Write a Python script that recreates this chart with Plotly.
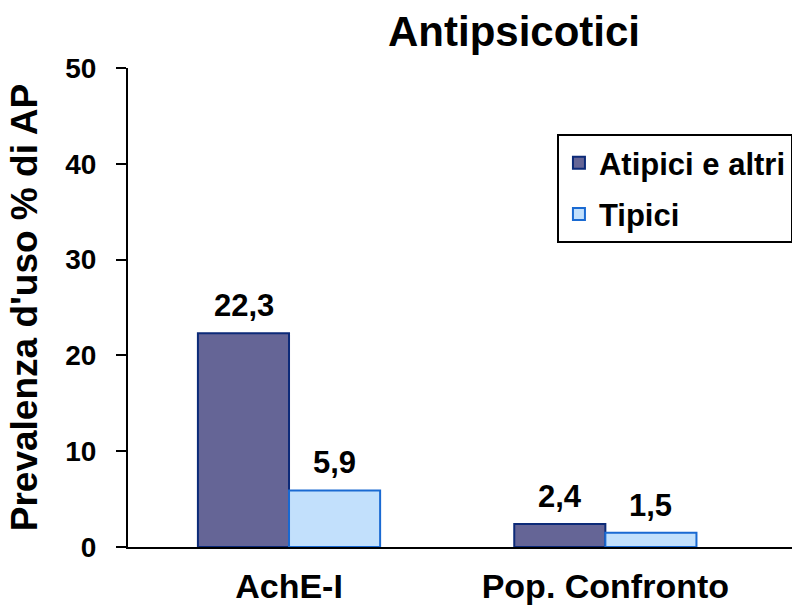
import plotly.graph_objects as go

categories = ["AchE-I", "Pop. Confronto"]
atipici = [22.3, 2.4]
tipici = [5.9, 1.5]
atipici_labels = ["22,3", "2,4"]
tipici_labels = ["5,9", "1,5"]
y_ticks = [0, 10, 20, 30, 40, 50]

FONT = "Liberation Sans, Arial, sans-serif"

fig = go.Figure()
fig.add_trace(go.Bar(
    x=categories, y=atipici, name="<b>Atipici e altri</b>", legendgroup="a",
    marker=dict(color="#656596", line=dict(color="#0c2a78", width=2)),
))
fig.add_trace(go.Bar(
    x=categories, y=tipici, name="<b>Tipici</b>", legendgroup="b",
    marker=dict(color="#c2e0fc", line=dict(color="#1a6ad2", width=2)),
))

for i, c in enumerate(categories):
    fig.add_annotation(x=i, xshift=-45.5, y=atipici[i], text="<b>%s</b>" % atipici_labels[i],
                       showarrow=False, yanchor="bottom", yshift=8,
                       font=dict(family=FONT, size=31, color="black"))
    fig.add_annotation(x=i, xshift=45.5, y=tipici[i], text="<b>%s</b>" % tipici_labels[i],
                       showarrow=False, yanchor="bottom", yshift=8,
                       font=dict(family=FONT, size=31, color="black"))

fig.update_layout(
    width=792, height=610,
    margin=dict(l=128, r=0, t=68, b=63, autoexpand=False),
    paper_bgcolor="white", plot_bgcolor="white",
    barmode="group", bargap=0.424, bargroupgap=0,
    font=dict(family=FONT, color="black"),
    title=dict(text="<b>Antipsicotici</b>", x=0.649, xanchor="center", y=0.948, yanchor="middle",
               font=dict(family=FONT, size=42, color="black")),
    showlegend=True,
    legend=dict(x=0.646, xanchor="left", y=0.862, yanchor="top",
                bordercolor="black", borderwidth=2, bgcolor="white",
                traceorder="grouped", tracegroupgap=8,
                font=dict(family=FONT, size=31, color="black"),
                itemwidth=30),
    xaxis=dict(type="category", range=[-0.509, 1.59], showline=True, linecolor="black", linewidth=2,
               ticks="", showgrid=False, zeroline=False, ticklabelstandoff=8,
               tickfont=dict(family=FONT, size=34, color="black", weight="bold")),
    yaxis=dict(range=[0, 50], tickvals=y_ticks, showline=True, linecolor="black", linewidth=2,
               ticks="outside", ticklen=10, tickwidth=2, tickcolor="black", showgrid=False,
               zeroline=False, ticklabelstandoff=14,
               tickfont=dict(family=FONT, size=28, color="black", weight="bold"),
               title=dict(text="<b>Prevalenza d'uso % di AP</b>", standoff=16,
                          font=dict(family=FONT, size=37, color="black"))),
)

fig.write_html("out.html")
